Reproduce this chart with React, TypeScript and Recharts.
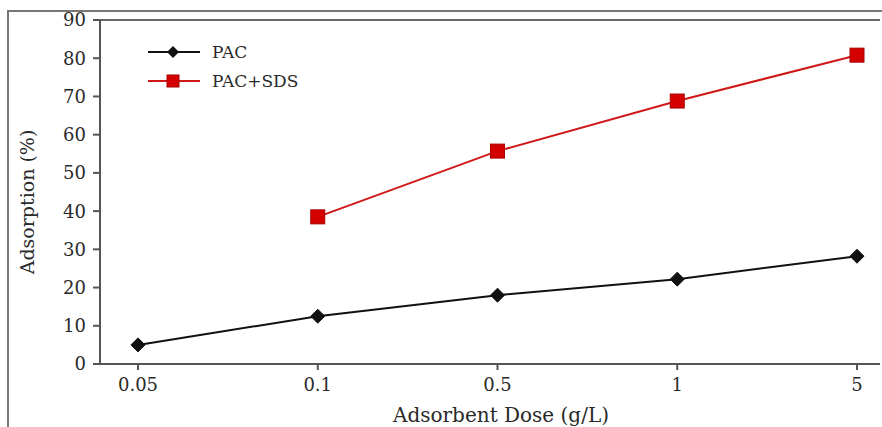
import React from 'react';
import { LineChart, Line, XAxis, YAxis, Legend, ReferenceLine } from 'recharts';

const doses = ['0.05', '0.1', '0.5', '1', '5'];
const pac = [5, 12.5, 18, 22.2, 28.2];
const pacSds = [null, 38.5, 55.7, 68.8, 80.8];
const yTicks = [0, 10, 20, 30, 40, 50, 60, 70, 80, 90];

const data = doses.map((d, i) => ({ dose: d, pac: pac[i], pacSds: pacSds[i] }));

const FONT = '"DejaVu Serif", "Liberation Serif", serif';
const BLACK = '#111111';
const RED = '#d01818';
const TEXT = '#2a2a2a';

const Diamond = (props: any) => {
  const { cx, cy } = props;
  if (cx == null || cy == null) return null;
  return <path d={`M${cx},${cy - 7}L${cx + 7},${cy}L${cx},${cy + 7}L${cx - 7},${cy}Z`} fill={BLACK} stroke={BLACK} />;
};

const Square = (props: any) => {
  const { cx, cy, value } = props;
  if (cx == null || cy == null || value == null) return null;
  return <rect x={cx - 7} y={cy - 7} width={14} height={14} fill="#d40000" stroke="#a80000" />;
};

function LegendBox() {
  const rows = [
    { name: 'PAC', color: BLACK, icon: 'diamond' },
    { name: 'PAC+SDS', color: RED, icon: 'square' },
  ];
  return (
    <svg width={220} height={60} style={{ overflow: 'visible', display: 'block' }}>
      {rows.map((r, i) => {
        const y = 22 + i * 29;
        return (
          <g key={r.name}>
            <line x1={18} x2={70} y1={y} y2={y} stroke={r.color} strokeWidth={2} />
            {r.icon === 'diamond' ? (
              <path d={`M43,${y - 6}L49,${y}L43,${y + 6}L37,${y}Z`} fill={BLACK} />
            ) : (
              <rect x={37} y={y - 6} width={12} height={12} fill="#d40000" stroke="#a80000" />
            )}
            <text x={82} y={y + 6} fontFamily={FONT} fontSize={17} fill={TEXT}>{r.name}</text>
          </g>
        );
      })}
    </svg>
  );
}

export default function App() {
  return (
    <div style={{ position: 'absolute', left: 0, top: 0, width: 882, height: 427, background: '#fff', overflow: 'hidden' }}>
      <div style={{ position: 'absolute', left: 7, top: 10, width: 880, height: 420, borderLeft: '2px solid #777', borderTop: '2px solid #777' }} />
      <div style={{ position: 'absolute', left: 0, top: 0 }}>
        <LineChart width={882} height={427} data={data} margin={{ top: 20, right: 2, left: 0, bottom: 0 }}>
          <XAxis
            dataKey="dose"
            height={63}
            padding={{ left: 38, right: 23 }}
            stroke="#555"
            strokeWidth={2}
            tickSize={6}
            tickMargin={8}
            tick={{ fontFamily: FONT, fontSize: 18, fill: TEXT }}
            label={(p: any) => {
              const vb = p.viewBox;
              return (
                <text x={vb.x + vb.width / 2 + 11} y={vb.y + 58} textAnchor="middle" fontFamily={FONT} fontSize={20} fill={TEXT}>
                  Adsorbent Dose (g/L)
                </text>
              );
            }}
          />
          <YAxis
            width={100}
            domain={[0, 90]}
            ticks={yTicks}
            interval={0}
            stroke="#555"
            strokeWidth={2}
            tickSize={7}
            tickMargin={7}
            tick={{ fontFamily: FONT, fontSize: 18, fill: TEXT }}
            label={(p: any) => {
              const vb = p.viewBox;
              const cx = vb.x + 27;
              const cy = vb.y + vb.height / 2 + 10;
              return (
                <text x={cx} y={cy} transform={`rotate(-90, ${cx}, ${cy})`} textAnchor="middle" dominantBaseline="central" fontFamily={FONT} fontSize={19} fill={TEXT}>
                  Adsorption (%)
                </text>
              );
            }}
          />
          <ReferenceLine y={90} stroke="#666" strokeWidth={2} />
          <Legend
            layout="horizontal"
            verticalAlign="middle"
            align="center"
            wrapperStyle={{ left: 130, top: 30, width: 220, height: 60 }}
            content={() => <LegendBox />}
          />
          <Line type="linear" dataKey="pac" stroke={BLACK} strokeWidth={2} dot={<Diamond />} isAnimationActive={false} />
          <Line type="linear" dataKey="pacSds" stroke={RED} strokeWidth={2} dot={<Square />} connectNulls={false} isAnimationActive={false} />
        </LineChart>
      </div>
    </div>
  );
}
